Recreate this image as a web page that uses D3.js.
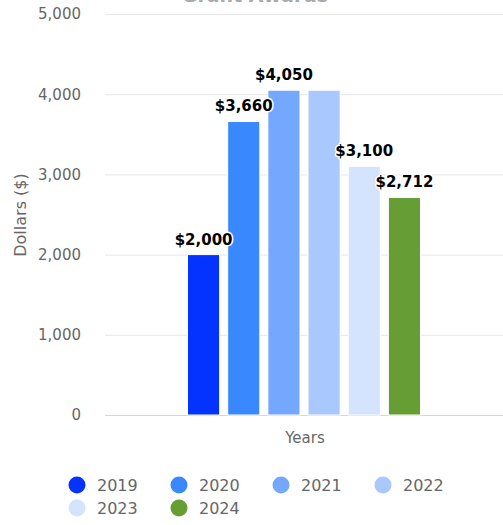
<!DOCTYPE html>
<html><head><meta charset="utf-8">
<script src="https://cdn.jsdelivr.net/npm/d3@7"></script>
<style>html,body{margin:0;padding:0;background:#fff;overflow:hidden}svg{display:block}</style>
</head><body>
<svg id="c" width="503" height="525"></svg>
<script>
const years = ["2019","2020","2021","2022","2023","2024"];
const values = [2000, 3660, 4050, 4050, 3100, 2712];
const colors = ["#0433ff","#3a88fe","#74a7fe","#a9c8fe","#d4e3fe","#669d34"];
const showLabel = [true, true, true, false, true, true];
const yTicks = [0, 1000, 2000, 3000, 4000, 5000];
const categories = ["Years"];

const FONT = "'DejaVu Sans', sans-serif";
const svg = d3.select("#c");
const y = d3.scaleLinear().domain([0, 5000]).range([415, 14]);
const x = d3.scaleBand().domain(categories).range([105, 503]).paddingInner(0).paddingOuter(0.3257);
const xs = d3.scaleBand().domain(years).range([x("Years"), x("Years") + x.bandwidth()]).paddingInner(0.2).paddingOuter(0.1);

// title (cut off at the top, as in the reference)
svg.append("text").attr("x", 255).attr("y", 2).attr("text-anchor", "middle")
  .attr("font-family", FONT).attr("font-weight", "bold").attr("font-size", 19)
  .attr("fill", "#aaa").text("Grant Awards");

// grid + y axis
const yAxis = d3.axisLeft(y).tickValues(yTicks).tickSize(-(503 - 105)).tickPadding(24)
  .tickFormat(d3.format(","));
const g = svg.append("g").attr("transform", "translate(105,0)").call(yAxis);
g.select(".domain").remove();
g.selectAll(".tick line").attr("stroke", "#e6e6e6");
g.selectAll(".tick text").attr("font-family", FONT).attr("font-size", 15).attr("fill", "#666");

// x axis line
const xAxis = d3.axisBottom(x).tickSize(0).tickFormat("");
const gx = svg.append("g").attr("transform", "translate(0,415)").call(xAxis);
gx.select(".domain").attr("stroke", "#ccd6eb").attr("d", "M105,0.5H503");

// bars
svg.selectAll("rect.bar").data(years).join("rect").attr("class", "bar")
  .attr("x", d => xs(d)).attr("width", xs.bandwidth())
  .attr("y", (d, i) => y(values[i])).attr("height", (d, i) => y(0) - y(values[i]))
  .attr("fill", (d, i) => colors[i]).attr("stroke", "#fff").attr("stroke-width", 1);

// data labels
const fmt = d3.format("$,");
svg.selectAll("text.lab").data(years.filter((d, i) => showLabel[i])).join("text").attr("class", "lab")
  .attr("x", d => xs(d) + xs.bandwidth() / 2)
  .attr("y", d => y(values[years.indexOf(d)]) - 10)
  .attr("text-anchor", "middle").attr("font-family", FONT).attr("font-weight", "bold")
  .attr("font-size", 15).attr("fill", "#000").attr("stroke", "#fff").attr("stroke-width", 3)
  .attr("paint-order", "stroke").attr("stroke-linejoin", "round")
  .text(d => fmt(values[years.indexOf(d)]));

// axis titles
svg.append("text").attr("x", 305).attr("y", 443).attr("text-anchor", "middle")
  .attr("font-family", FONT).attr("font-size", 15).attr("fill", "#666").text("Years");
svg.append("text").attr("transform", "translate(26,215) rotate(-90)").attr("text-anchor", "middle")
  .attr("font-family", FONT).attr("font-size", 16).attr("fill", "#666").text("Dollars ($)");

// legend
const lx = [77, 179, 281, 383];
const leg = svg.selectAll("g.leg").data(years).join("g").attr("class", "leg")
  .attr("transform", (d, i) => `translate(${lx[i % 4]},${485 + Math.floor(i / 4) * 23})`);
leg.append("circle").attr("r", 8.5).attr("fill", (d, i) => colors[i]);
leg.append("text").attr("x", 20).attr("y", 6).attr("font-family", FONT).attr("font-size", 16)
  .attr("fill", "#666").text(d => d);
</script>
</body></html>
